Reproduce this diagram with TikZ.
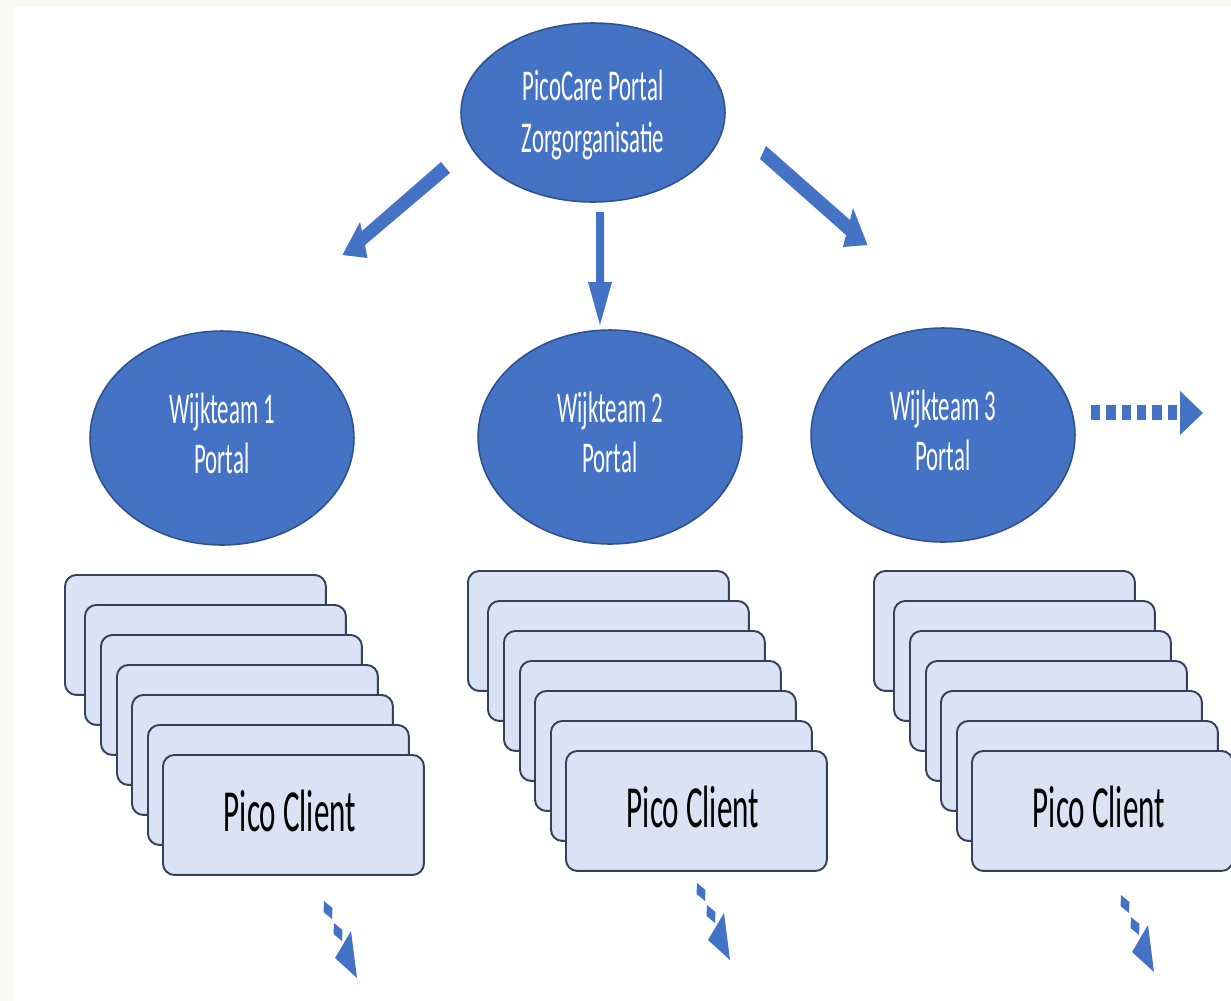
\documentclass[tikz,border=0pt]{standalone}
\usepackage{fontspec}
\setmainfont{Carlito}
\newfontfamily\ellfont[FakeStretch=0.52]{Carlito}
\newfontfamily\cardfont[FakeStretch=0.52]{Carlito}
\usetikzlibrary{shapes.geometric}
\definecolor{blueA}{HTML}{4472C4}
\definecolor{blueB}{HTML}{2F528F}
\definecolor{cardfill}{HTML}{DAE3F3}
\definecolor{cardline}{HTML}{33415C}
\definecolor{bgedge}{HTML}{FAFAF5}
\begin{document}
\begin{tikzpicture}[x=0.02cm,y=-0.02cm,
  portal/.style={ellipse, draw=blueB, line width=0.9pt, fill=blueA,
    inner sep=0pt, minimum width=5.28cm, minimum height=4.28cm},
  ptext/.style={text=white, inner sep=0pt, anchor=base,
    font=\ellfont\fontsize{25}{29.5}\selectfont},
  card/.style={draw=cardline, fill=cardfill, line width=1.1pt, rounded corners=6.5pt,
    minimum width=5.22cm, minimum height=2.4cm, inner sep=0pt, anchor=north west},
  ctext/.style={inner sep=0pt, anchor=base, font=\cardfont\fontsize{34}{40}\selectfont},
  bigarrow/.style={fill=blueA},
  dotarrow/.pic={
    \fill[blueA] (-4,-9)--(4.5,-2)--(4,9)--(-4.5,2)--cycle;
    \fill[blueA] (6,13)--(14.5,20)--(14,31)--(5.5,24)--cycle;
    \fill[blueA] (23,21)--(29,68)--(7,48)--cycle;
  }
]
\useasboundingbox (0,0) rectangle (1231,1001);
\clip (0,0) rectangle (1231,1001);
\fill[bgedge] (0,0) rectangle (1231,1001);
\fill[white] (13,7) rectangle (1231,1001);

% portals
\node[portal, minimum height=3.58cm] (top) at (593,112.5) {};
\node[ptext] (top-a) at (593,100) {PicoCare Portal};
\node[ptext] (top-b) at (593,152) {Zorgorganisatie};
\node[portal] (w1) at (222,438) {};
\node[ptext] (w1-a) at (222,423) {Wijkteam 1};
\node[ptext] (w1-b) at (222,473) {Portal};
\node[portal] (w2) at (610,437) {};
\node[ptext] (w2-a) at (610,422) {Wijkteam 2};
\node[ptext] (w2-b) at (610,472) {Portal};
\node[portal] (w3) at (943,435) {};
\node[ptext] (w3-a) at (943,420) {Wijkteam 3};
\node[ptext] (w3-b) at (943,470) {Portal};

% big arrows
\fill[bigarrow] (441,162)--(450,173)--(365,245)--(367.5,258)--(342.5,255)--(360,222)--(362,231)--cycle;
\fill[bigarrow] (596,212)--(604,212)--(604,282)--(612,282)--(600,325)--(588,282)--(596,282)--cycle;
\fill[bigarrow] (766,146)--(850,220)--(853,208)--(867.5,245)--(843,247)--(846,235)--(760,159)--cycle;

% dotted arrow right
\foreach \k in {0,...,5} \fill[blueA] (1091+\k*15.3,405) rectangle ++(9.3,15);
\fill[blueA] (1180,391)--(1203,413)--(1180,435)--cycle;

% card stacks
\foreach \s/\x/\y in {1/64/574, 2/467/570, 3/873/570} {
  \foreach \i/\dx/\dy in {1/0/0, 2/20/30, 3/36/60, 4/52/90, 5/67/120, 6/83/150, 7/98/180} {
    \node[card] (c\s-\i) at (\x+\dx,\y+\dy) {};
  }
  \node[ctext] (t\s) at ([xshift=-0.07cm, yshift=-0.34cm]c\s-7.center) {Pico Client};
}

% bottom dotted arrows
\pic at (328,910) {dotarrow};
\pic at (701,892) {dotarrow};
\pic at (1125,904) {dotarrow};
\end{tikzpicture}
\end{document}
